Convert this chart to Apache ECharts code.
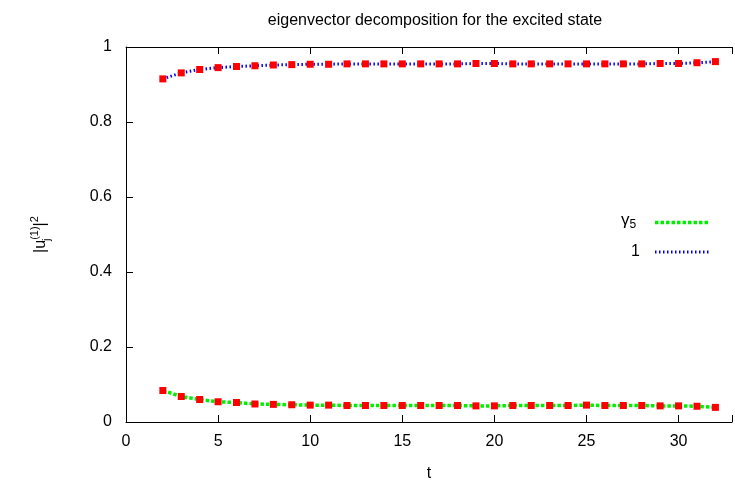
<!DOCTYPE html>
<html>
<head>
<meta charset="utf-8">
<script src="https://cdn.jsdelivr.net/npm/echarts@6/dist/echarts.min.js"></script>
<style>html,body{margin:0;padding:0;background:#fff;overflow:hidden;width:100%;height:100%}#c{width:100vw;height:100vh}</style>
</head>
<body>
<div id="c"></div>
<script>
const tValues = [2,3,4,5,6,7,8,9,10,11,12,13,14,15,16,17,18,19,20,21,22,23,24,25,26,27,28,29,30,31,32];
const gamma5Values = [0.084,0.068,0.060,0.054,0.052,0.048,0.047,0.046,0.045,0.045,0.044,0.044,0.044,0.044,0.044,0.044,0.044,0.043,0.043,0.044,0.044,0.044,0.044,0.045,0.044,0.044,0.044,0.043,0.043,0.042,0.039];
const oneValues = [0.915,0.931,0.940,0.945,0.948,0.950,0.952,0.953,0.954,0.954,0.955,0.955,0.955,0.955,0.955,0.955,0.955,0.956,0.956,0.955,0.955,0.955,0.955,0.955,0.955,0.955,0.955,0.956,0.956,0.958,0.961];
const yTicks = [0,0.2,0.4,0.6,0.8,1];
const xTicks = [0,5,10,15,20,25,30];
const legendNames = ['γ5','1'];

const FONT = '"Liberation Sans", Arial, sans-serif';
const chart = echarts.init(document.getElementById('c'), null, {renderer:'canvas'});
const pairs = v => tValues.map((t,i)=>[t,v[i]]);
const axisCommon = {
  type:'value', min:0, max:32.9, interval:5,
  axisLine:{show:true, onZero:false, lineStyle:{color:'#000', width:1}},
  axisTick:{show:true, inside:true, length:7, lineStyle:{color:'#000'}},
  splitLine:{show:false}
};
chart.setOption({
  animation:false,
  backgroundColor:'#fff',
  title:{text:'eigenvector decomposition for the excited state', left:430, top:8, textAlign:'center',
    textStyle:{fontFamily:FONT, fontSize:16, fontWeight:'normal', color:'#000'}},
  grid:{left:126, top:47, right:0, bottom:60},
  xAxis:[
    Object.assign({}, axisCommon, {position:'bottom', name:'t', nameLocation:'middle', nameGap:44,
      nameTextStyle:{fontFamily:FONT, fontSize:16, color:'#000'},
      axisLabel:{fontFamily:FONT, fontSize:16, color:'#000', margin:12,
        formatter: v => xTicks.indexOf(v) >= 0 ? String(v) : ''}}),
    Object.assign({}, axisCommon, {position:'top', axisLabel:{show:false}})
  ],
  yAxis:{type:'value', min:0, max:1, interval:0.2,
    axisLine:{show:true, lineStyle:{color:'#000'}},
    axisTick:{show:true, inside:true, length:7, lineStyle:{color:'#000'}},
    splitLine:{show:false},
    axisLabel:{fontFamily:FONT, fontSize:16, color:'#000', margin:14,
      formatter: v => yTicks.indexOf(+v.toFixed(1)) >= 0 ? String(+v.toFixed(1)) : ''},
    name:'{b||u}{sub|j}{sup|(1)}{b||}{sup|2}', nameLocation:'middle', nameGap:70, nameRotate:90,
    nameTextStyle:{fontFamily:FONT, fontSize:16, color:'#000',
      rich:{
        b:{fontFamily:FONT, fontSize:16, color:'#000', lineHeight:30, verticalAlign:'middle'},
        sub:{fontFamily:FONT, fontSize:11, color:'#000', lineHeight:30, verticalAlign:'bottom', padding:[0,0,4,0], width:0},
        sup:{fontFamily:FONT, fontSize:11, color:'#000', lineHeight:30, verticalAlign:'top', padding:[3,0,0,0]}
      }}
  },
  series:[
    {name:legendNames[0], type:'line', data:pairs(gamma5Values), symbol:'rect', symbolSize:7,
      lineStyle:{color:'#00ee00', width:3.5, type:[3.5,2]}, itemStyle:{color:'#ff0000'}, z:3},
    {name:legendNames[1], type:'line', data:pairs(oneValues), symbol:'rect', symbolSize:7,
      lineStyle:{color:'#0000ff', width:3, type:[1.5,2.5]}, itemStyle:{color:'#ff0000'}, z:3}
  ],
  graphic:[
    {type:'text', left:621, top:212, style:{text:'{g|γ}{s|5}', font:'16px '+FONT, fill:'#000',
      rich:{g:{fontFamily:FONT, fontSize:17, fill:'#000'}, s:{fontFamily:FONT, fontSize:12, fill:'#000', padding:[8,0,0,0]}}}},
    {type:'line', shape:{x1:655, y1:222.5, x2:709, y2:222.5}, style:{stroke:'#00ee00', lineWidth:3.5, lineDash:[3.5,2]}},
    {type:'text', left:631, top:244, style:{text:legendNames[1], font:'16px '+FONT, fill:'#000'}},
    {type:'line', shape:{x1:655, y1:252, x2:709, y2:252}, style:{stroke:'#0000ff', lineWidth:3, lineDash:[1.5,2.5]}}
  ]
});
</script>
</body>
</html>
